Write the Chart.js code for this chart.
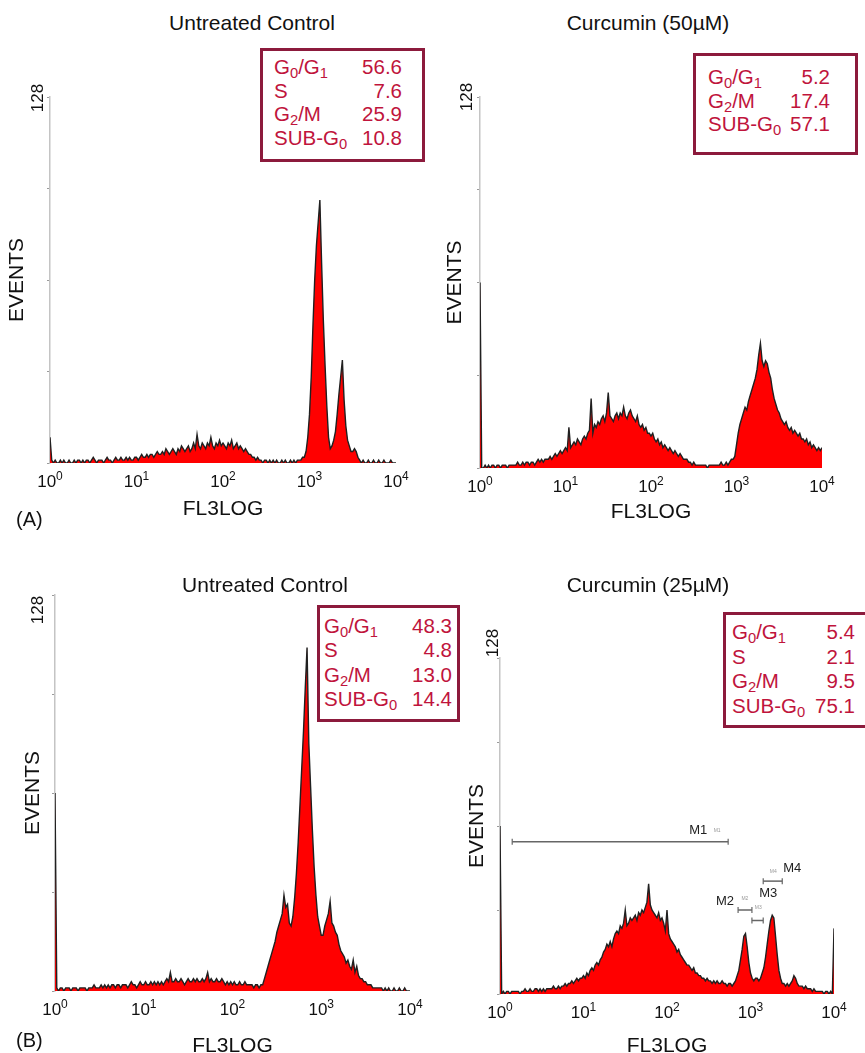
<!DOCTYPE html>
<html lang="en">
<head>
<meta charset="UTF-8">
<title>Cell cycle analysis - FL3LOG histograms</title>
<script src="https://cdn.jsdelivr.net/npm/chart.js"></script>
<style>
    body {
        margin: 0;
        width: 865px;
        height: 1053px;
        overflow: hidden;
        position: relative;
        background: #fff;
        font-family: Arial, "Liberation Sans", Helvetica, sans-serif;
    }

    canvas {
        position: absolute;
    }

    .title {
        position: absolute;
        font-size: 21px;
        color: #111;
        white-space: nowrap;
        transform: translate(-50%, -50%);
    }

    .tag {
        position: absolute;
        font-size: 20px;
        color: #111;
        transform: translateY(-50%);
    }

    .stats {
        position: absolute;
        box-sizing: border-box;
        border: 3px solid #8c1a3c;
        background: #fff;
        color: #c0143c;
        font-size: 20.5px;
    }

    .stats .row {
        display: flex;
        justify-content: space-between;
        white-space: nowrap;
    }

    .stats sub {
        font-size: 0.72em;
        vertical-align: -0.3em;
        line-height: 0;
    }
</style>
</head>
<body>
    <canvas id="controlA"></canvas>
    <canvas id="curcumin50"></canvas>
    <canvas id="controlB"></canvas>
    <canvas id="curcumin25"></canvas>

    <div class="title" style="left:252px; top:23px;">Untreated Control</div>
    <div class="title" style="left:648px; top:23px;">Curcumin (50µM)</div>
    <div class="title" style="left:265px; top:585px;">Untreated Control</div>
    <div class="title" style="left:648px; top:585px;">Curcumin (25µM)</div>
    <div class="tag" style="left:16px; top:519px;">(A)</div>
    <div class="tag" style="left:16px; top:1040px;">(B)</div>

<script>
// FL3 intensity bins, 50 per decade (10^0 .. 10^4)
const channels = [
    1, 1.047, 1.096, 1.148, 1.202, 1.259, 1.318, 1.38, 1.445, 1.514,
    1.585, 1.66, 1.738, 1.82, 1.905, 1.995, 2.089, 2.188, 2.291, 2.399,
    2.512, 2.63, 2.754, 2.884, 3.02, 3.162, 3.311, 3.467, 3.631, 3.802,
    3.981, 4.169, 4.365, 4.571, 4.786, 5.012, 5.248, 5.495, 5.754, 6.026,
    6.31, 6.607, 6.918, 7.244, 7.586, 7.943, 8.318, 8.71, 9.12, 9.55,
    10, 10.47, 10.96, 11.48, 12.02, 12.59, 13.18, 13.8, 14.45, 15.14,
    15.85, 16.6, 17.38, 18.2, 19.05, 19.95, 20.89, 21.88, 22.91, 23.99,
    25.12, 26.3, 27.54, 28.84, 30.2, 31.62, 33.11, 34.67, 36.31, 38.02,
    39.81, 41.69, 43.65, 45.71, 47.86, 50.12, 52.48, 54.95, 57.54, 60.26,
    63.1, 66.07, 69.18, 72.44, 75.86, 79.43, 83.18, 87.1, 91.2, 95.5,
    100, 104.7, 109.6, 114.8, 120.2, 125.9, 131.8, 138, 144.5, 151.4,
    158.5, 166, 173.8, 182, 190.5, 199.5, 208.9, 218.8, 229.1, 239.9,
    251.2, 263, 275.4, 288.4, 302, 316.2, 331.1, 346.7, 363.1, 380.2,
    398.1, 416.9, 436.5, 457.1, 478.6, 501.2, 524.8, 549.5, 575.4, 602.6,
    631, 660.7, 691.8, 724.4, 758.6, 794.3, 831.8, 871, 912, 955,
    1000, 1047, 1096, 1148, 1202, 1259, 1318, 1380, 1445, 1514,
    1585, 1660, 1738, 1820, 1905, 1995, 2089, 2188, 2291, 2399,
    2512, 2630, 2754, 2884, 3020, 3162, 3311, 3467, 3631, 3802,
    3981, 4169, 4365, 4571, 4786, 5012, 5248, 5495, 5754, 6026,
    6310, 6607, 6918, 7244, 7586, 7943, 8318, 8710, 9120, 9550,
    10000
];

// EVENTS per bin
const controlA = [
    9, 1, 0, 1, 0, 0, 1, 0, 1, 0,
    0, 1, 0, 0, 1, 0, 1, 1, 0, 1,
    0, 1, 1, 0, 1, 2, 1, 0, 1, 1,
    1, 0, 1, 2, 1, 1, 0, 1, 2, 1,
    1, 2, 1, 1, 2, 1, 2, 1, 1, 2,
    2, 1, 2, 3, 2, 2, 3, 2, 3, 3,
    2, 3, 4, 3, 3, 4, 3, 5, 4, 3,
    4, 5, 4, 3, 5, 4, 6, 5, 4, 5,
    6, 4, 5, 7, 5, 10, 6, 5, 7, 6,
    5, 7, 6, 9, 6, 5, 7, 6, 8, 6,
    7, 6, 5, 7, 6, 8, 5, 6, 7, 5,
    6, 5, 4, 5, 4, 3, 3, 2, 2, 1,
    2, 1, 1, 0, 1, 1, 0, 1, 0, 1,
    0, 1, 0, 0, 1, 0, 1, 0, 0, 1,
    0, 1, 0, 1, 1, 1, 2, 2, 4, 9,
    17, 30, 48, 64, 76, 84, 92, 70, 50, 34,
    20, 9, 5, 6, 8, 11, 17, 24, 30, 36,
    22, 13, 8, 6, 4, 4, 5, 4, 2, 1,
    0, 1, 0, 0, 1, 0, 0, 1, 0, 0,
    1, 0, 0, 1, 0, 0, 0, 1, 0, 0,
    0
];

const curcumin50 = [
    64, 0, 0, 1, 0, 1, 0, 1, 1, 0,
    1, 1, 0, 1, 1, 1, 0, 1, 1, 1,
    1, 1, 2, 1, 1, 2, 1, 2, 2, 1,
    2, 2, 1, 2, 3, 2, 3, 2, 3, 3,
    3, 4, 3, 4, 5, 4, 5, 6, 5, 6,
    7, 6, 14, 7, 8, 9, 8, 10, 9, 8,
    10, 11, 10, 12, 13, 24, 12, 15, 14, 16,
    15, 17, 18, 16, 19, 26, 18, 17, 16, 18,
    19, 17, 19, 18, 21, 18, 17, 19, 20, 18,
    17, 16, 18, 15, 14, 15, 13, 14, 12, 12,
    11, 12, 10, 9, 10, 8, 9, 7, 8, 7,
    6, 7, 6, 5, 6, 5, 4, 5, 4, 3,
    3, 3, 2, 2, 1, 2, 1, 1, 1, 1,
    1, 1, 1, 0, 1, 1, 1, 1, 1, 1,
    1, 2, 1, 1, 2, 1, 2, 3, 3, 4,
    8, 12, 15, 17, 19, 21, 20, 23, 25, 27,
    29, 31, 34, 39, 43, 37, 35, 37, 36, 33,
    31, 27, 24, 22, 20, 19, 17, 16, 15, 16,
    14, 13, 14, 12, 13, 12, 11, 12, 10, 10,
    9, 10, 8, 9, 7, 8, 7, 6, 7, 6,
    7
];

const controlB = [
    64, 1, 0, 1, 1, 0, 1, 1, 1, 0,
    1, 1, 1, 0, 1, 1, 1, 1, 0, 1,
    1, 1, 2, 1, 1, 1, 2, 1, 2, 1,
    2, 1, 2, 2, 1, 2, 2, 1, 2, 2,
    2, 1, 2, 3, 2, 2, 1, 2, 3, 2,
    2, 3, 2, 2, 3, 2, 3, 2, 3, 2,
    3, 2, 3, 4, 3, 6, 3, 3, 4, 3,
    3, 4, 3, 2, 3, 4, 3, 3, 4, 3,
    4, 3, 3, 4, 3, 4, 6, 3, 4, 3,
    3, 4, 3, 3, 4, 3, 2, 3, 2, 3,
    2, 3, 2, 2, 3, 2, 2, 3, 2, 2,
    2, 2, 1, 2, 2, 1, 2, 2, 4, 6,
    8, 10, 12, 14, 16, 19, 21, 23, 25, 31,
    27, 28, 22, 21, 24, 30, 38, 48, 60, 72,
    84, 98, 111, 80, 66, 52, 40, 31, 24, 21,
    18, 18, 21, 23, 25, 29, 22, 21, 19, 18,
    15, 13, 12, 11, 9, 10, 8, 7, 10, 6,
    8, 5, 4, 4, 3, 3, 2, 2, 2, 1,
    1, 1, 1, 1, 1, 0, 1, 0, 1, 0,
    0, 1, 0, 0, 1, 0, 0, 1, 0, 0,
    0
];

const curcumin25 = [
    64, 0, 1, 0, 1, 1, 0, 1, 1, 1,
    1, 1, 0, 1, 1, 2, 1, 1, 2, 1,
    1, 2, 2, 1, 2, 1, 2, 1, 2, 2,
    2, 2, 3, 2, 2, 3, 2, 3, 3, 4,
    3, 4, 4, 5, 4, 5, 6, 5, 6, 6,
    7, 6, 8, 7, 9, 10, 9, 11, 12, 11,
    13, 14, 16, 17, 19, 18, 20, 18, 21, 23,
    24, 23, 26, 25, 27, 32, 26, 27, 29, 28,
    29, 30, 28, 31, 30, 32, 31, 33, 35, 42,
    34, 32, 31, 30, 29, 31, 28, 29, 27, 24,
    32, 23, 21, 20, 19, 18, 16, 17, 15, 14,
    13, 12, 11, 11, 10, 9, 10, 8, 8, 7,
    7, 6, 6, 5, 6, 5, 5, 4, 5, 4,
    5, 4, 4, 5, 4, 4, 3, 4, 4, 3,
    4, 5, 7, 9, 13, 17, 22, 23, 18, 12,
    8, 6, 5, 6, 6, 5, 6, 8, 10, 14,
    19, 24, 28, 30, 29, 22, 15, 9, 6, 4,
    4, 3, 4, 3, 4, 5, 7, 6, 4, 3,
    3, 3, 2, 3, 2, 2, 2, 1, 2, 1,
    1, 1, 1, 1, 0, 1, 1, 0, 1, 0,
    25
];

// axes
const xTickValues = [1, 10, 100, 1000, 10000];
const xTickBase = '10';
const xTickExponents = ['0', '1', '2', '3', '4'];
const eventsMax = 128;
const eventsStep = 32;

// cell cycle percentages in the boxes
const phasesFull = ['G0/G1', 'S', 'G2/M', 'SUB-G0'];
const phasesNoS = ['G0/G1', 'G2/M', 'SUB-G0'];
const controlAStats = [56.6, 7.6, 25.9, 10.8];
const curcumin50Stats = [5.2, 17.4, 57.1];
const controlBStats = [48.3, 4.8, 13.0, 14.4];
const curcumin25Stats = [5.4, 2.1, 9.5, 75.1];

// marker gates on the 25µM panel
const markerNames = ['M1', 'M2', 'M3', 'M4'];
const markerFrom = [1.4, 710, 1040, 1420];
const markerTo = [540, 1040, 1420, 2400];
const markerLevel = [58, 32, 28, 43];
// label offsets from the right end of each gate: [dx, dy, smallDx, smallDy]
const markerLabelOffsets = [[-30, -11, -11, -11], [-27, -9, -7, -11], [5, -27, -5, -13], [10, -13, -9, -10]];

const FONT = 'Arial, "Liberation Sans", Helvetica, sans-serif';
Chart.defaults.font.family = FONT;
Chart.defaults.color = '#111';

// rotated "128" next to the top of the EVENTS axis
const topLabel = {
    id: 'topLabel',
    afterDraw(chart, args, opts) {
        const ctx = chart.ctx;
        const x = chart.chartArea.left + opts.dx;
        const y = chart.scales.y.getPixelForValue(eventsMax) + opts.dy;
        ctx.save();
        ctx.translate(x, y);
        ctx.rotate(-Math.PI / 2);
        ctx.font = '17px ' + FONT;
        ctx.fillStyle = '#111';
        ctx.textAlign = 'center';
        ctx.textBaseline = 'middle';
        ctx.fillText(String(eventsMax), 0, 0);
        ctx.restore();
    }
};

// 10^n tick labels with a raised exponent
const xTickText = {
    id: 'xTickText',
    afterDraw(chart) {
        const ctx = chart.ctx;
        const xs = chart.scales.x;
        const y0 = chart.chartArea.bottom + 24;
        ctx.save();
        ctx.fillStyle = '#111';
        ctx.textAlign = 'left';
        ctx.textBaseline = 'alphabetic';
        xTickValues.forEach((v, i) => {
            ctx.font = '17px ' + FONT;
            const wb = ctx.measureText(xTickBase).width;
            ctx.font = '12px ' + FONT;
            const we = ctx.measureText(xTickExponents[i]).width;
            const x0 = xs.getPixelForValue(v) - (wb + we) / 2;
            ctx.font = '17px ' + FONT;
            ctx.fillText(xTickBase, x0, y0);
            ctx.font = '12px ' + FONT;
            ctx.fillText(xTickExponents[i], x0 + wb, y0 - 7);
        });
        ctx.restore();
    }
};

const markerLabels = {
    id: 'markerLabels',
    afterDatasetsDraw(chart) {
        const ctx = chart.ctx;
        const xs = chart.scales.x, ys = chart.scales.y;
        ctx.save();
        ctx.textAlign = 'center';
        ctx.textBaseline = 'middle';
        markerNames.forEach((name, i) => {
            const px = xs.getPixelForValue(markerTo[i]);
            const py = ys.getPixelForValue(markerLevel[i]);
            const o = markerLabelOffsets[i];
            ctx.font = '13px ' + FONT;
            ctx.fillStyle = '#222';
            ctx.fillText(name, px + o[0], py + o[1]);
            ctx.font = '5px ' + FONT;
            ctx.fillStyle = '#999';
            ctx.fillText(name, px + o[2], py + o[3]);
        });
        ctx.restore();
    }
};

function makePanel(p) {
    const c = p.canvas, a = p.plot;
    const el = document.getElementById(p.id);
    el.width = c.width;
    el.height = c.height;
    el.style.left = c.left + 'px';
    el.style.top = c.top + 'px';

    const yWidth = a.left - c.left;
    const xHeight = c.top + c.height - a.bottom;
    const titleHalf = 21 * 1.2 / 2;

    const datasets = [{
        data: channels.map((v, i) => ({ x: v, y: p.counts[i] })),
        borderColor: '#202020',
        borderWidth: 1.4,
        backgroundColor: '#ff0000',
        fill: 'origin',
        pointRadius: 0,
        tension: 0,
        order: 1
    }];
    if (p.markers) {
        markerNames.forEach((name, i) => {
            datasets.push({
                label: name,
                data: [{ x: markerFrom[i], y: markerLevel[i] }, { x: markerTo[i], y: markerLevel[i] }],
                borderColor: '#666',
                borderWidth: 1.5,
                fill: false,
                pointStyle: 'line',
                pointRotation: 90,
                pointRadius: 3,
                pointBorderColor: '#666',
                pointBorderWidth: 1.2,
                order: 0
            });
        });
    }

    new Chart(el, {
        type: 'line',
        data: { datasets },
        options: {
            responsive: false,
            animation: false,
            events: [],
            layout: {
                padding: { left: 0, bottom: 0, top: a.top - c.top, right: c.left + c.width - a.right }
            },
            plugins: {
                legend: { display: false },
                tooltip: { enabled: false },
                topLabel: { dx: p.topLabel[0], dy: p.topLabel[1] }
            },
            scales: {
                x: {
                    type: 'logarithmic',
                    min: xTickValues[0],
                    max: xTickValues[xTickValues.length - 1],
                    afterBuildTicks: s => { s.ticks = xTickValues.map(v => ({ value: v })); },
                    ticks: { display: false },
                    grid: { display: false },
                    border: { display: false },
                    title: {
                        display: true, text: 'FL3LOG', color: '#111',
                        font: { size: 21 },
                        padding: { top: 0, bottom: c.top + c.height - p.fl3Y - titleHalf }
                    },
                    afterFit: s => { s.height = xHeight; }
                },
                y: {
                    min: 0,
                    max: eventsMax,
                    ticks: { display: false, stepSize: eventsStep },
                    grid: { display: true, drawOnChartArea: false, drawTicks: true, tickLength: 3, color: '#9a9a9a' },
                    border: { display: true, color: '#c4c4c4', width: 1.5 },
                    title: {
                        display: true, text: 'EVENTS', color: '#111',
                        font: { size: 21 },
                        padding: { top: p.eventsX - c.left - titleHalf, bottom: 0 }
                    },
                    afterFit: s => { s.width = yWidth; }
                }
            }
        },
        plugins: p.markers ? [topLabel, xTickText, markerLabels] : [topLabel, xTickText]
    });
}

function makeStats(b, phases, values) {
    const d = document.createElement('div');
    d.className = 'stats';
    d.style.left = b.left + 'px';
    d.style.top = b.top + 'px';
    d.style.width = b.width + 'px';
    d.style.height = b.height + 'px';
    d.style.padding = b.pad;
    d.style.lineHeight = b.lh + 'px';
    phases.forEach((ph, i) => {
        const r = document.createElement('div');
        r.className = 'row';
        r.innerHTML = '<span>' + ph.replace(/G(\d)/g, 'G<sub>$1</sub>') + '</span><span>' + values[i].toFixed(1) + '</span>';
        d.appendChild(r);
    });
    document.body.appendChild(d);
}

makePanel({
    id: 'controlA', counts: controlA,
    canvas: { left: 0, top: 40, width: 430, height: 490 },
    plot: { left: 50, top: 97, right: 396, bottom: 463 },
    eventsX: 17, fl3Y: 509, topLabel: [-12, 1]
});
makePanel({
    id: 'curcumin50', counts: curcumin50,
    canvas: { left: 430, top: 40, width: 435, height: 490 },
    plot: { left: 480, top: 97, right: 822, bottom: 468 },
    eventsX: 455, fl3Y: 512, topLabel: [-13, 0]
});
makePanel({
    id: 'controlB', counts: controlB,
    canvas: { left: 0, top: 560, width: 430, height: 500 },
    plot: { left: 55, top: 595, right: 410, bottom: 991 },
    eventsX: 33, fl3Y: 1046, topLabel: [-17, 15]
});
makePanel({
    id: 'curcumin25', counts: curcumin25, markers: true,
    canvas: { left: 430, top: 560, width: 435, height: 500 },
    plot: { left: 500, top: 658, right: 834, bottom: 994 },
    eventsX: 477, fl3Y: 1046, topLabel: [-7, -15]
});

makeStats({ left: 260, top: 48, width: 165, height: 114, pad: '4px 20px 0 11px', lh: 23.5 }, phasesFull, controlAStats);
makeStats({ left: 693, top: 53, width: 165, height: 102, pad: '9px 25px 0 12px', lh: 23.5 }, phasesNoS, curcumin50Stats);
makeStats({ left: 317, top: 605, width: 143, height: 117, pad: '6px 5px 0 4px', lh: 24.3 }, phasesFull, controlBStats);
makeStats({ left: 723, top: 612, width: 150, height: 116, pad: '5px 15px 0 6px', lh: 24.7 }, phasesFull, curcumin25Stats);
</script>
</body>
</html>
